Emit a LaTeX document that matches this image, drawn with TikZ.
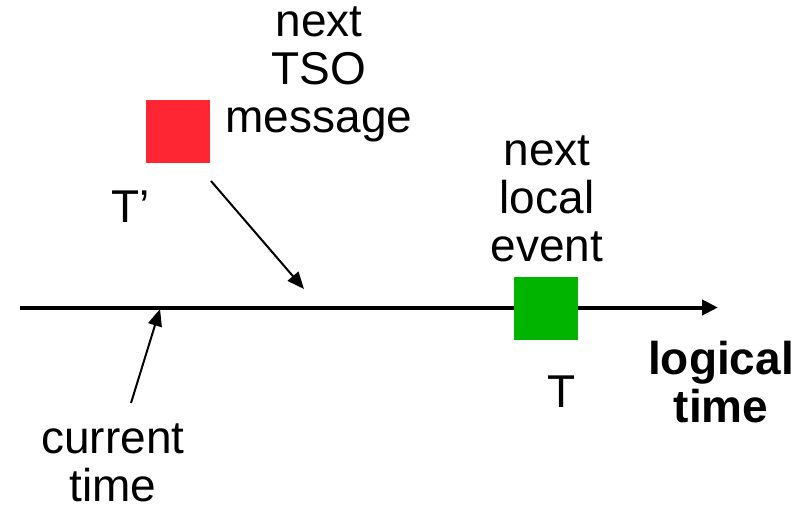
\documentclass[tikz,border=0pt]{standalone}
\usepackage{fontspec}
\setmainfont{Liberation Sans}
\usetikzlibrary{arrows.meta}
\definecolor{msgred}{RGB}{255,38,51}
\definecolor{evgreen}{RGB}{0,180,0}
\begin{document}
\begin{tikzpicture}[x=1pt,y=-1pt,
  lbl/.style={inner sep=0pt,align=center,font=\fontsize{46}{48}\selectfont},
  boldlbl/.style={lbl,font=\fontsize{46}{48}\selectfont\bfseries},
  marker/.style={draw=none,inner sep=0pt,minimum width=64pt,minimum height=63pt},
  pointer/.style={line width=2pt,-{Triangle[length=17pt,width=14pt]}},
  axis/.style={line width=4pt,-{Triangle[length=16pt,width=15pt]}}]
\useasboundingbox (0,0) rectangle (811,512);

% time axis
\coordinate (axstart) at (20,307.5);
\coordinate (axend) at (718,307.5);
\draw[axis] (axstart) -- (axend);

% pending events
\node[marker,fill=msgred] (msg) at (178,131.5) {};
\node[marker,fill=evgreen] (ev) at (546,308) {};

% labels
\node[lbl] (msglbl) at (319,74) {next\\TSO\\message};
\node[lbl] (evlbl) at (547,199) {next\\local\\event};
\node[lbl,anchor=base] (tprime) at (131,222) {T’};
\node[lbl,anchor=base] (tlbl) at (562,407) {T};
\node[lbl] (curlbl) at (113,463) {current\\time};
\node[boldlbl] (axlbl) at (721,382.5) {logical\\time};

% pointers
\coordinate (msgtail) at (211,181);
\coordinate (msghit) at (304,289);
\coordinate (curtail) at (131,403);
\coordinate (curhit) at (160,309);
\draw[pointer] (msgtail) -- (msghit);
\draw[pointer] (curtail) -- (curhit);
\end{tikzpicture}
\end{document}
